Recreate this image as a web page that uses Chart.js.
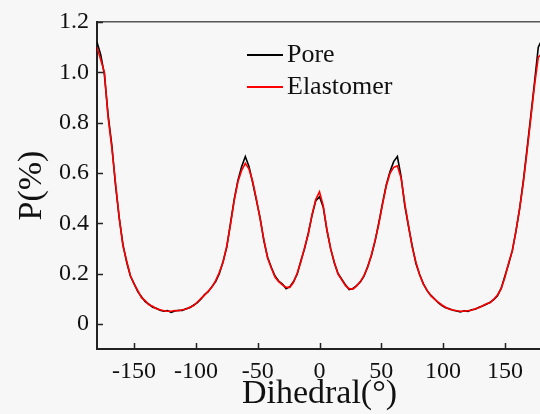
<!DOCTYPE html>
<html>
<head>
<meta charset="utf-8">
<script src="https://cdn.jsdelivr.net/npm/chart.js@4.4.1/dist/chart.umd.min.js"></script>
<style>
  html, body { margin: 0; padding: 0; background: #f7f7f7; overflow: hidden; }
  #wrap { width: 548px; height: 414px; }
</style>
</head>
<body>
<div id="wrap"><canvas id="dihedralChart" width="548" height="414"></canvas></div>
<script>
// Dihedral angle (degrees), sampled every 3 degrees
const angles = [
  -180, -177, -174, -171, -168, -165, -162, -159, -156, -153,
  -150, -147, -144, -141, -138, -135, -132, -129, -126, -123,
  -120, -117, -114, -111, -108, -105, -102, -99, -96, -93,
  -90, -87, -84, -81, -78, -75, -72, -69, -66, -63,
  -60, -57, -54, -51, -48, -45, -42, -39, -36, -33,
  -30, -27, -24, -21, -18, -15, -12, -9, -6, -3,
  0, 3, 6, 9, 12, 15, 18, 21, 24, 27,
  30, 33, 36, 39, 42, 45, 48, 51, 54, 57,
  60, 63, 66, 69, 72, 75, 78, 81, 84, 87,
  90, 93, 96, 99, 102, 105, 108, 111, 114, 117,
  120, 123, 126, 129, 132, 135, 138, 141, 144, 147,
  150, 153, 156, 159, 162, 165, 168, 171, 174, 177,
  180
];

// P(%) for the pore system
const pore = [
  1.12, 1.07, 0.99, 0.83, 0.71, 0.55, 0.42, 0.315, 0.245, 0.19,
  0.16, 0.128, 0.108, 0.088, 0.078, 0.066, 0.062, 0.054, 0.05, 0.053,
  0.046, 0.051, 0.054, 0.053, 0.06, 0.064, 0.074, 0.083, 0.098, 0.116,
  0.128, 0.148, 0.168, 0.2, 0.248, 0.305, 0.4, 0.495, 0.57, 0.625,
  0.665, 0.625, 0.56, 0.49, 0.42, 0.33, 0.265, 0.225, 0.19, 0.17,
  0.158, 0.14, 0.148, 0.168, 0.198, 0.252, 0.3, 0.362, 0.432, 0.49,
  0.505, 0.465, 0.372, 0.3, 0.242, 0.2, 0.178, 0.155, 0.136, 0.14,
  0.152, 0.166, 0.19, 0.228, 0.272, 0.33, 0.402, 0.48, 0.552, 0.605,
  0.645, 0.665, 0.585, 0.47, 0.388, 0.31, 0.24, 0.196, 0.16, 0.132,
  0.114, 0.1, 0.084, 0.073, 0.064, 0.06, 0.054, 0.051, 0.047, 0.052,
  0.049, 0.056, 0.058, 0.066, 0.071, 0.078, 0.086, 0.096, 0.112, 0.142,
  0.19, 0.238, 0.292, 0.37, 0.462, 0.572, 0.7, 0.83, 0.962, 1.1,
  1.13
];

// P(%) for the elastomer system
const elastomer = [
  1.10, 1.05, 1.0, 0.82, 0.7, 0.56, 0.42, 0.31, 0.25, 0.192,
  0.158, 0.132, 0.104, 0.092, 0.076, 0.07, 0.06, 0.056, 0.052, 0.05,
  0.05, 0.053, 0.052, 0.056, 0.058, 0.066, 0.072, 0.086, 0.1, 0.114,
  0.13, 0.146, 0.172, 0.205, 0.245, 0.31, 0.395, 0.49, 0.565, 0.61,
  0.638, 0.615, 0.565, 0.495, 0.415, 0.335, 0.262, 0.222, 0.186, 0.168,
  0.155, 0.145, 0.145, 0.165, 0.202, 0.248, 0.305, 0.358, 0.435, 0.495,
  0.525, 0.47, 0.375, 0.298, 0.245, 0.198, 0.175, 0.152, 0.14, 0.138,
  0.15, 0.168, 0.192, 0.225, 0.275, 0.332, 0.398, 0.475, 0.548, 0.598,
  0.622, 0.628, 0.58, 0.478, 0.39, 0.305, 0.245, 0.195, 0.158, 0.134,
  0.112, 0.098, 0.086, 0.075, 0.066, 0.058, 0.055, 0.052, 0.05, 0.05,
  0.052, 0.054, 0.06, 0.064, 0.072, 0.08, 0.084, 0.098, 0.115, 0.14,
  0.185, 0.242, 0.29, 0.372, 0.46, 0.565, 0.69, 0.82, 0.95, 1.06,
  1.075
];

const xTicks = [-150, -100, -50, 0, 50, 100, 150];
const yTicks = [0, 0.2, 0.4, 0.6, 0.8, 1.0, 1.2];

const serif = "'Liberation Serif', 'Times New Roman', serif";

// Inward tick marks on the left and bottom axes
const inwardTicks = {
  id: "inwardTicks",
  afterDraw(chart) {
    const { ctx, chartArea, scales } = chart;
    ctx.save();
    ctx.strokeStyle = "#222";
    ctx.lineWidth = 1.5;
    ctx.beginPath();
    xTicks.forEach(v => {
      const x = Math.round(scales.x.getPixelForValue(v)) + 0.5;
      ctx.moveTo(x, chartArea.bottom);
      ctx.lineTo(x, chartArea.bottom - 6);
    });
    yTicks.forEach(v => {
      const y = Math.round(scales.y.getPixelForValue(v)) + 0.5;
      ctx.moveTo(chartArea.left, y);
      ctx.lineTo(chartArea.left + 6, y);
    });
    ctx.stroke();
    ctx.restore();
  }
};

// Draws the small legend inside the plot, like the original figure
const insideLegend = {
  id: "insideLegend",
  afterDraw(chart) {
    const ctx = chart.ctx;
    const rows = [chart.data.datasets[0], chart.data.datasets[1]];
    ctx.save();
    ctx.font = "26px " + serif;
    ctx.textBaseline = "middle";
    ctx.fillStyle = "#111";
    rows.forEach((ds, i) => {
      const y = 55 + i * 32;
      ctx.strokeStyle = ds.borderColor;
      ctx.lineWidth = 2;
      ctx.beginPath();
      ctx.moveTo(247, y);
      ctx.lineTo(283, y);
      ctx.stroke();
      ctx.fillText(ds.label, 287, y);
    });
    ctx.restore();
  }
};

const ctx = document.getElementById("dihedralChart").getContext("2d");

new Chart(ctx, {
  type: "line",
  data: {
    datasets: [
      {
        label: "Pore",
        data: angles.map((a, i) => ({ x: a, y: pore[i] })),
        borderColor: "#000000",
        borderWidth: 1.6,
        pointRadius: 0,
        tension: 0,
        order: 2
      },
      {
        label: "Elastomer",
        data: angles.map((a, i) => ({ x: a, y: elastomer[i] })),
        borderColor: "#ff0000",
        borderWidth: 1.6,
        pointRadius: 0,
        tension: 0,
        order: 1
      }
    ]
  },
  options: {
    responsive: false,
    animation: false,
    layout: { padding: { left: 0, right: 6, top: 0, bottom: 0 } },
    plugins: {
      legend: { display: false },
      tooltip: { enabled: false }
    },
    scales: {
      x: {
        type: "linear",
        position: "bottom",
        min: -180,
        max: 180,
        afterBuildTicks: scale => { scale.ticks = xTicks.map(v => ({ value: v })); },
        afterFit: scale => { scale.height = 65; },
        grid: { display: false },
        border: { color: "#222", width: 2 },
        ticks: {
          color: "#111",
          padding: 0,
          maxRotation: 0,
          font: { family: serif, size: 24 },
          callback: v => String(v)
        },
        title: {
          display: true,
          text: "Dihedral(°)",
          color: "#111",
          font: { family: serif, size: 34, lineHeight: 1.2 },
          padding: { top: 0, bottom: 0 }
        }
      },
      xTop: {
        type: "linear",
        position: "top",
        min: -180,
        max: 180,
        afterFit: scale => { scale.height = 22; },
        grid: { display: false },
        border: { color: "#555", width: 1.5 },
        ticks: { display: false }
      },
      y: {
        min: -0.1,
        max: 1.2,
        afterBuildTicks: scale => { scale.ticks = yTicks.map(v => ({ value: v })); },
        afterFit: scale => { scale.width = 97; },
        grid: { display: false },
        border: { color: "#222", width: 2 },
        ticks: {
          color: "#111",
          padding: 0,
          font: { family: serif, size: 24 },
          callback: v => (v === 0 ? "0" : v.toFixed(1))
        },
        title: {
          display: true,
          text: "P(%)",
          color: "#111",
          font: { family: serif, size: 34, lineHeight: 1.2 },
          padding: { top: 12, bottom: 0 }
        }
      }
    }
  },
  plugins: [inwardTicks, insideLegend]
});
</script>
</body>
</html>
